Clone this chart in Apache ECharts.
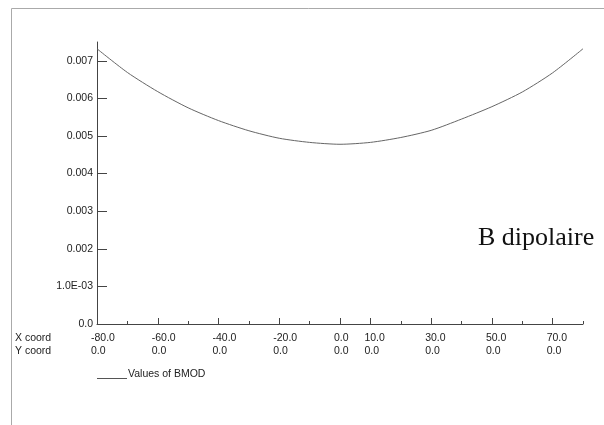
<!DOCTYPE html>
<html>
<head>
<meta charset="utf-8">
<script src="https://cdn.jsdelivr.net/npm/echarts@6/dist/echarts.min.js"></script>
<style>
html,body{margin:0;padding:0;background:#fff;}
#chart{width:604px;height:425px;}
</style>
</head>
<body>
<div id="chart"></div>
<script>
// Data
const xCoord = [-80, -70, -60, -50, -40, -30, -20, -10, 0, 10, 20, 30, 40, 50, 60, 70, 80];
const bmodValues = [0.00732, 0.00669, 0.00618, 0.00575, 0.00541, 0.00514, 0.00494, 0.00483, 0.00478,
                    0.00483, 0.00496, 0.00515, 0.00545, 0.00578, 0.00617, 0.00668, 0.00732];
const xLabelValues = [-80, -60, -40, -20, 0, 10, 30, 50, 70];
const xLabelTexts = ['-80.0', '-60.0', '-40.0', '-20.0', '0.0', '10.0', '30.0', '50.0', '70.0'];
const yCoordTexts = ['0.0', '0.0', '0.0', '0.0', '0.0', '0.0', '0.0', '0.0', '0.0'];
const yTickValues = [0, 0.001, 0.002, 0.003, 0.004, 0.005, 0.006, 0.007];
const yTickTexts = ['0.0', '1.0E-03', '0.002', '0.003', '0.004', '0.005', '0.006', '0.007'];
const seriesName = 'Values of BMOD';
const annotation = 'B dipolaire';

const FONT = 'Liberation Sans, Arial, sans-serif';
const TXT = '#222';
const AX = '#444';

const chart = echarts.init(document.getElementById('chart'), null, {renderer: 'canvas'});

const labelMap = {};
xLabelValues.forEach((v, i) => { labelMap[v] = xLabelTexts[i] + '\n' + yCoordTexts[i]; });
const yLabelMap = {};
yTickValues.forEach((v, i) => { yLabelMap[v.toFixed(4)] = yTickTexts[i]; });

chart.setOption({
  animation: false,
  backgroundColor: '#fff',
  grid: [
    {left: 97, top: 42, width: 486, height: 282},
    {left: 91, top: 42, width: 486, height: 282}
  ],
  xAxis: [
    {
      gridIndex: 0, type: 'value', min: -80, max: 80, interval: 10,
      axisLine: {show: true, onZero: false, lineStyle: {color: AX, width: 1}},
      axisTick: {show: true, inside: true, length: 3, lineStyle: {color: AX}},
      axisLabel: {show: false},
      splitLine: {show: false}
    },
    {
      gridIndex: 0, type: 'value', min: -80, max: 80, position: 'bottom',
      axisLine: {show: false},
      axisTick: {show: true, inside: true, length: 6, customValues: xLabelValues, lineStyle: {color: AX}},
      axisLabel: {show: false},
      splitLine: {show: false}
    },
    {
      gridIndex: 1, type: 'value', min: -80, max: 80, position: 'bottom',
      axisLine: {show: false},
      axisTick: {show: false},
      axisLabel: {
        show: true, customValues: xLabelValues, align: 'left', verticalAlign: 'top',
        margin: 8, fontFamily: FONT, fontSize: 10.5, color: TXT, lineHeight: 13,
        formatter: v => labelMap[v] || ''
      },
      splitLine: {show: false}
    }
  ],
  yAxis: [
    {
      gridIndex: 0, type: 'value', min: 0, max: 0.0075,
      axisLine: {show: true, onZero: false, lineStyle: {color: AX, width: 1}},
      axisTick: {show: true, inside: true, length: 10, customValues: yTickValues, lineStyle: {color: AX}},
      axisLabel: {
        show: true, customValues: yTickValues, margin: 4,
        fontFamily: FONT, fontSize: 10.5, color: TXT,
        formatter: v => yLabelMap[v.toFixed(4)] || ''
      },
      splitLine: {show: false}
    },
    {
      gridIndex: 1, type: 'value', min: 0, max: 0.0075, show: false
    }
  ],
  series: [
    {
      name: seriesName, type: 'line', xAxisIndex: 0, yAxisIndex: 0,
      data: xCoord.map((x, i) => [x, bmodValues[i]]),
      showSymbol: false, smooth: 0.25,
      lineStyle: {color: '#666', width: 1}
    }
  ],
  graphic: [
    {type: 'rect', shape: {x: 11.5, y: 8.5, width: 800, height: 600}, style: {fill: 'none', stroke: '#aaa', lineWidth: 1}, silent: true},
    {type: 'text', x: 15, y: 338, style: {text: 'X coord', font: '10.5px ' + FONT, fill: TXT, verticalAlign: 'middle'}},
    {type: 'text', x: 15, y: 351, style: {text: 'Y coord', font: '10.5px ' + FONT, fill: TXT, verticalAlign: 'middle'}},
    {type: 'line', shape: {x1: 97, y1: 378.5, x2: 127, y2: 378.5}, style: {stroke: '#555', lineWidth: 1}},
    {type: 'text', x: 128, y: 374, style: {text: seriesName, font: '10.5px ' + FONT, fill: TXT, verticalAlign: 'middle'}},
    {type: 'text', x: 478, y: 238, style: {text: annotation, font: '26px "Liberation Serif", "Times New Roman", serif', fill: '#111', verticalAlign: 'middle'}}
  ]
});
</script>
</body>
</html>
